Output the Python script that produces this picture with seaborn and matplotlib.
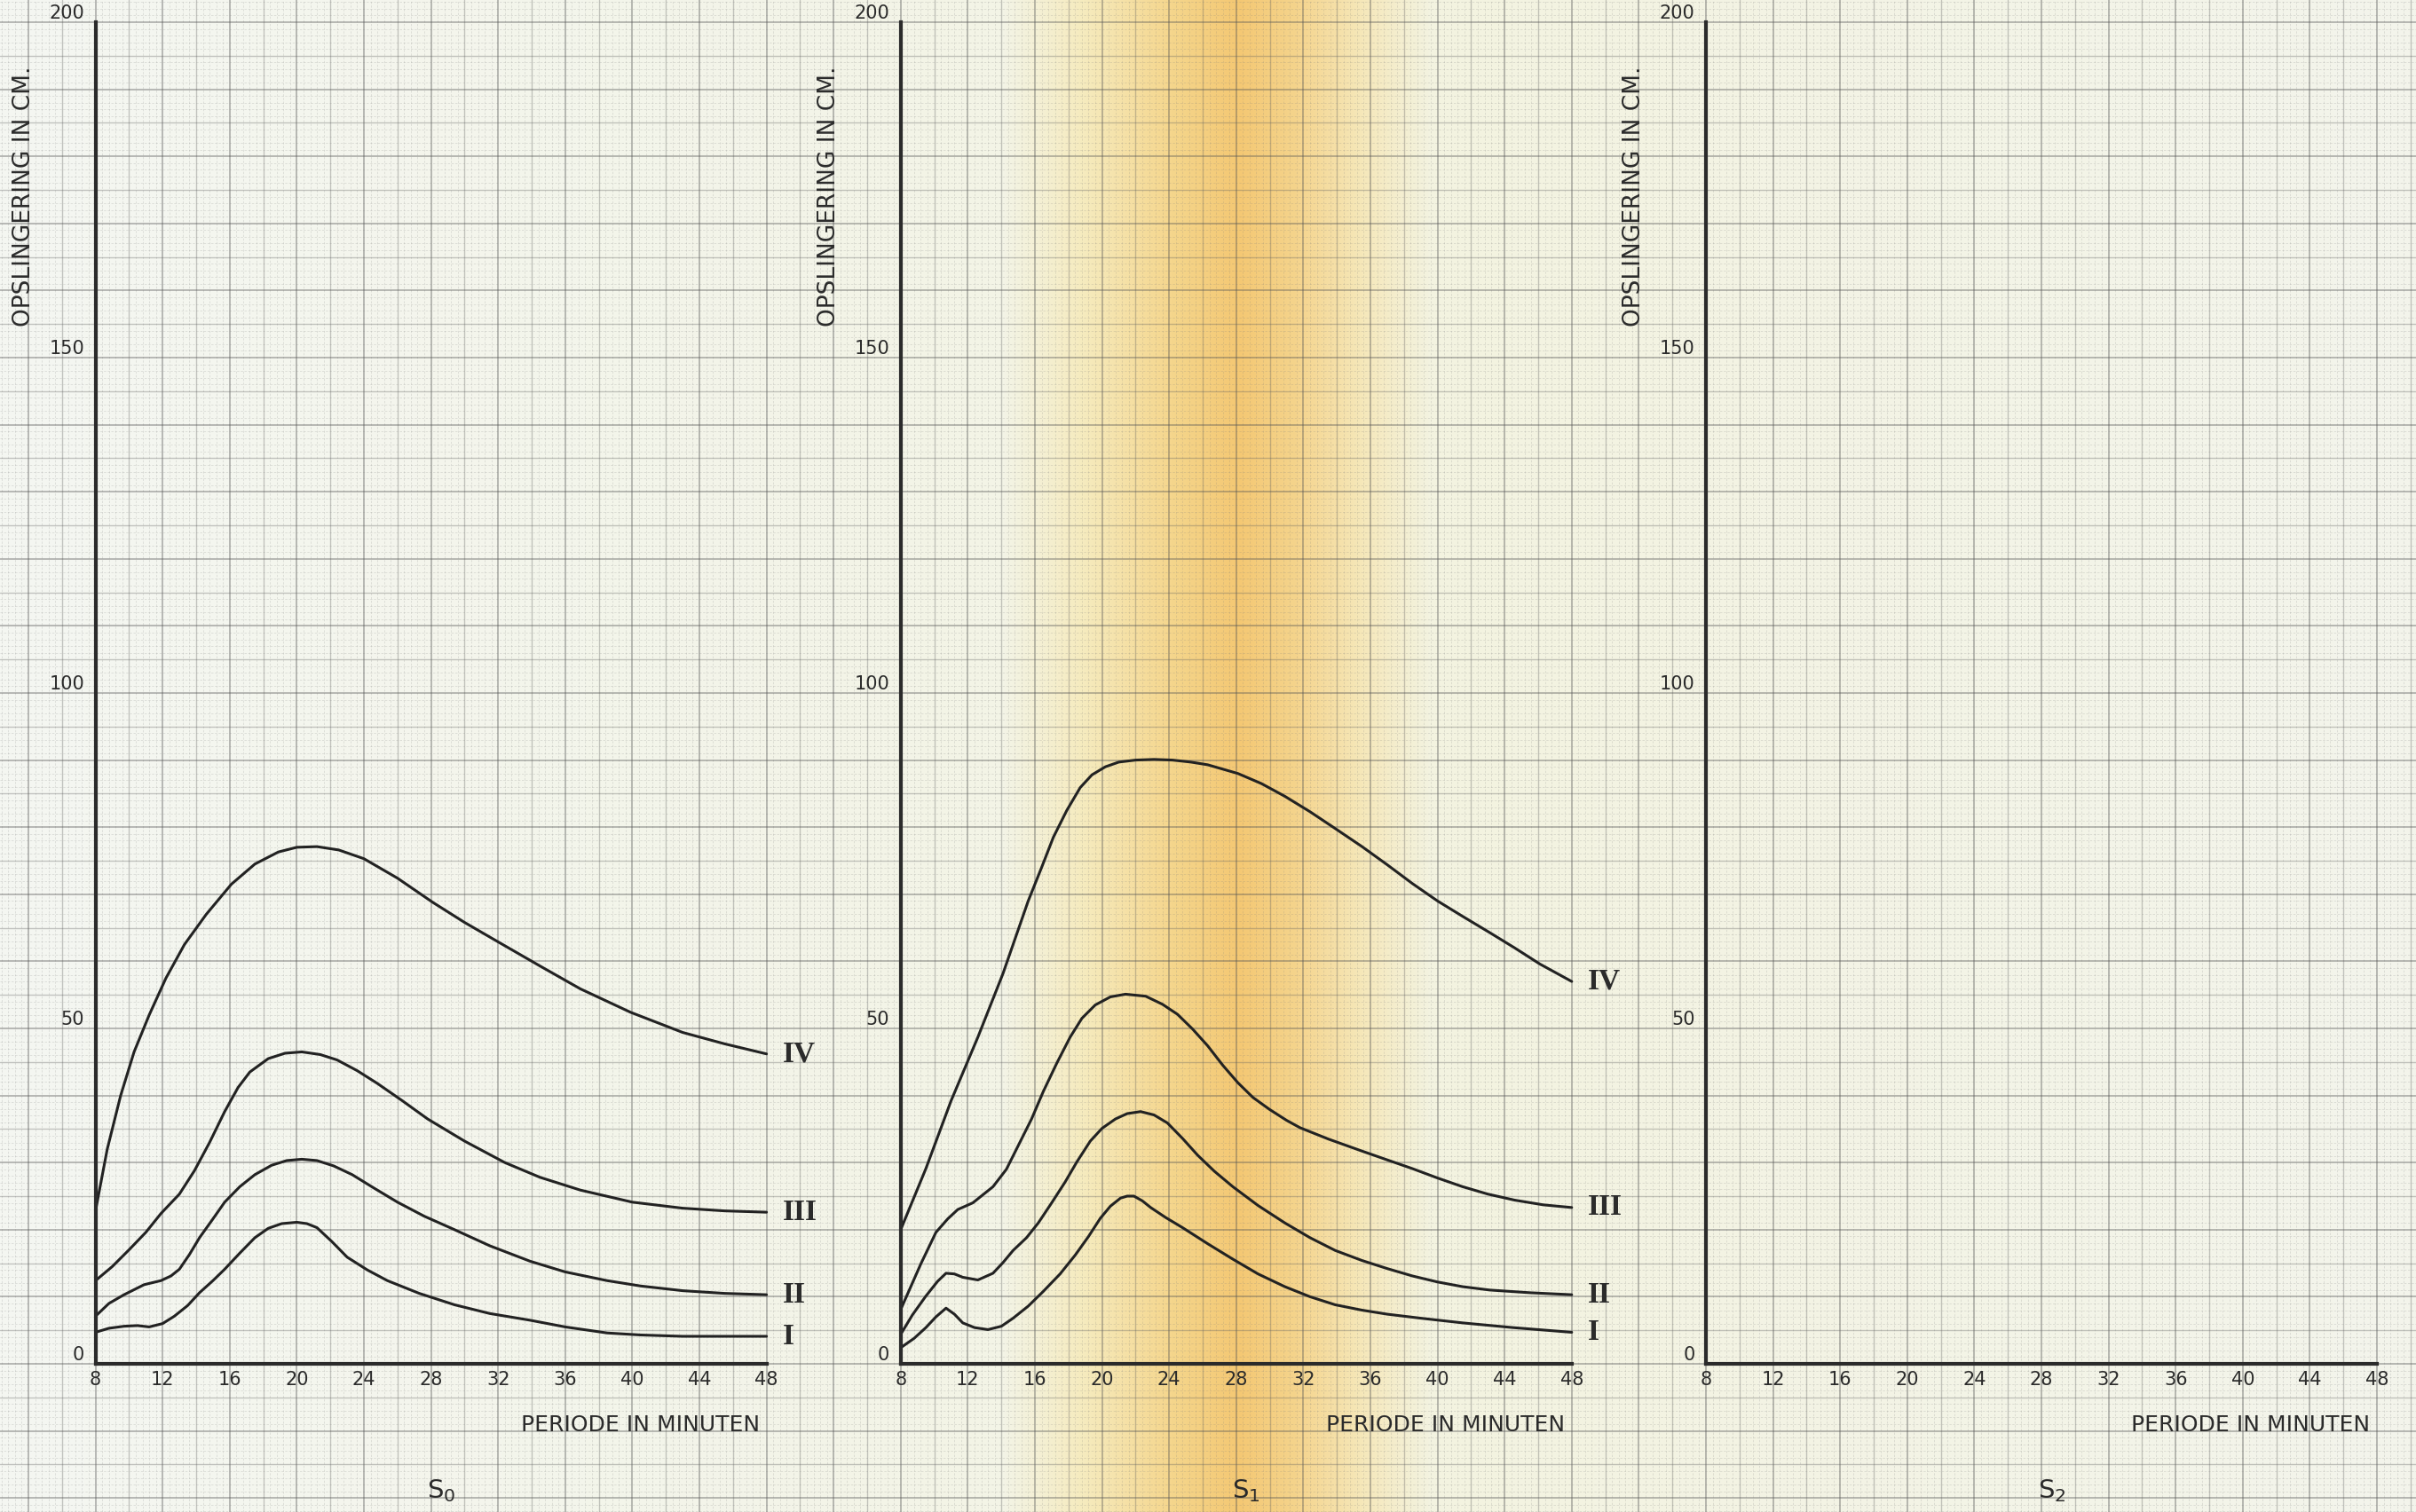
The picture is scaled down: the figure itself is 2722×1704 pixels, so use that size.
import numpy as np
import pandas as pd
import matplotlib.pyplot as plt
import seaborn as sns

# --- data: S0 panel ---
x_s0_I = [8, 8.8, 9.7, 10.5, 11.2, 12, 12.7, 13.5, 14.2, 15, 15.7, 16.6, 17.5, 18.3, 19.1, 20.0, 20.6, 21.2,
          22.1, 23.0, 24.2, 25.4, 27.3, 29.4, 31.5, 33.9, 36, 38.5, 40.5, 43.0, 48]
y_s0_I = [4.7, 5.3, 5.6, 5.7, 5.5, 6.0, 7.1, 8.7, 10.6, 12.4, 14.1, 16.5, 18.8, 20.2, 20.9, 21.1, 20.9, 20.3,
          18.2, 15.9, 14.0, 12.4, 10.5, 8.8, 7.5, 6.5, 5.5, 4.6, 4.3, 4.1, 4.1]
x_s0_II = [8, 8.8, 9.7, 10.9, 11.9, 12.5, 13.0, 13.6, 14.2, 15.0, 15.7, 16.6, 17.5, 18.5, 19.4, 20.3, 21.2,
           22.2, 23.3, 24.6, 26.0, 27.6, 29.4, 31.5, 33.9, 36, 38.5, 40.5, 43.0, 45.5, 48]
y_s0_II = [7.1, 9.0, 10.3, 11.8, 12.4, 13.1, 14.1, 16.3, 18.8, 21.6, 24.1, 26.4, 28.2, 29.6, 30.3, 30.5, 30.3,
           29.5, 28.2, 26.2, 24.1, 22.0, 20.0, 17.6, 15.3, 13.7, 12.4, 11.6, 10.9, 10.5, 10.3]
x_s0_III = [8, 9, 10, 11, 11.9, 13, 13.9, 14.8, 15.7, 16.5, 17.2, 18.3, 19.3, 20.3, 21.4, 22.4, 23.6, 24.8,
            26.3, 27.8, 30, 32.4, 34.5, 36.9, 40.0, 43.0, 45.5, 48]
y_s0_III = [12.4, 14.5, 17.0, 19.6, 22.4, 25.3, 28.8, 33.0, 37.6, 41.2, 43.5, 45.5, 46.3, 46.5, 46.1, 45.3,
            43.7, 41.8, 39.2, 36.5, 33.2, 30.0, 27.8, 25.9, 24.1, 23.2, 22.8, 22.6]
x_s0_IV = [8, 8.7, 9.5, 10.3, 11.2, 12.2, 13.3, 14.6, 16.1, 17.5, 18.9, 20.0, 21.2, 22.5, 24.0, 26.0, 28.1,
           30, 32.0, 34.5, 36.9, 39.9, 43.0, 45.5, 48]
y_s0_IV = [22.8, 32.0, 40.0, 46.5, 52.0, 57.5, 62.5, 67.0, 71.5, 74.5, 76.3, 77.0, 77.1, 76.6, 75.3, 72.4,
           68.8, 65.8, 62.9, 59.3, 55.9, 52.4, 49.4, 47.7, 46.2]

# --- S1 panel ---
x_s1_I = [8, 8.8, 9.5, 10.1, 10.7, 11.2, 11.7, 12.4, 13.2, 14, 14.7, 15.6, 16.5, 17.5, 18.4, 19.2, 19.9, 20.5,
          21.1, 21.5, 21.9, 22.4, 22.9, 23.8, 24.8, 26.3, 27.8, 29.3, 30.9, 32.4, 33.9, 35.5, 37, 39, 41.5,
          44.5, 48]
y_s1_I = [2.4, 3.8, 5.4, 7.0, 8.3, 7.4, 6.1, 5.4, 5.1, 5.6, 6.8, 8.6, 10.8, 13.4, 16.2, 19.0, 21.7, 23.5,
          24.7, 25.0, 25.0, 24.3, 23.3, 21.8, 20.3, 17.9, 15.6, 13.4, 11.5, 10.0, 8.8, 8.0, 7.4, 6.8, 6.1,
          5.4, 4.7]
x_s1_II = [8, 8.7, 9.5, 10.2, 10.7, 11.2, 11.7, 12.6, 13.5, 14.1, 14.7, 15.5, 16.2, 17, 17.8, 18.5, 19.3, 20,
           20.8, 21.5, 22.3, 23.1, 23.9, 24.8, 25.7, 26.7, 27.8, 29.3, 30.9, 32.4, 33.9, 35.5, 37, 38.5, 40,
           41.5, 43.1, 45.5, 48]
y_s1_II = [4.4, 7.3, 10.1, 12.3, 13.5, 13.4, 12.9, 12.5, 13.5, 15.1, 16.9, 18.8, 21.0, 24.0, 27.1, 30.1,
           33.2, 35.1, 36.5, 37.3, 37.6, 37.1, 35.9, 33.6, 31.1, 28.7, 26.4, 23.6, 21.0, 18.8, 16.9, 15.4,
           14.2, 13.1, 12.2, 11.5, 11.0, 10.6, 10.3]
x_s1_III = [8, 8.6, 9.2, 10.1, 10.8, 11.4, 12.3, 13.5, 14.3, 15, 15.8, 16.5, 17.3, 18.1, 18.8, 19.6, 20.5,
            21.4, 22.6, 23.6, 24.5, 25.4, 26.3, 27.2, 28.1, 29, 30, 31, 31.8, 33.5, 35.4, 37, 38.5, 40, 41.5,
            43, 44.6, 46.3, 48]
y_s1_III = [8.1, 11.5, 14.9, 19.6, 21.6, 23.0, 24.0, 26.4, 29.0, 32.5, 36.5, 40.6, 44.8, 48.7, 51.5, 53.5,
            54.7, 55.1, 54.8, 53.6, 52.1, 49.9, 47.4, 44.5, 41.9, 39.7, 37.9, 36.3, 35.2, 33.5, 31.8, 30.4,
            29.1, 27.7, 26.4, 25.3, 24.4, 23.7, 23.3]
x_s1_IV = [8, 9.5, 11, 12.6, 14.1, 15.6, 16.4, 17.1, 17.9, 18.7, 19.4, 20.2, 21, 22, 23.1, 24.2, 25.3, 26.3,
           28.1, 29.5, 30.9, 32.4, 33.9, 35.5, 37, 38.5, 40, 41.5, 43.1, 44.6, 46.1, 48]
y_s1_IV = [20.0, 29.1, 39.2, 48.7, 58.2, 69.0, 74.0, 78.5, 82.5, 85.9, 87.8, 89.0, 89.7, 90.0, 90.1, 90.0,
           89.7, 89.3, 88.0, 86.5, 84.6, 82.3, 79.8, 77.1, 74.4, 71.6, 69.0, 66.7, 64.3, 62.0, 59.6, 57.0]

curve_names = ['I', 'II', 'III', 'IV']
panel_names = ['S$_\\mathregular{0}$', 'S$_\\mathregular{1}$', 'S$_\\mathregular{2}$']
x_ticks = [8, 12, 16, 20, 24, 28, 32, 36, 40, 44, 48]
y_ticks = [0, 50, 100, 150, 200]
y_label = 'OPSLINGERING IN CM.'
x_label = 'PERIODE IN MINUTEN'

panels = [
    {'I': (x_s0_I, y_s0_I), 'II': (x_s0_II, y_s0_II), 'III': (x_s0_III, y_s0_III), 'IV': (x_s0_IV, y_s0_IV)},
    {'I': (x_s1_I, y_s1_I), 'II': (x_s1_II, y_s1_II), 'III': (x_s1_III, y_s1_III), 'IV': (x_s1_IV, y_s1_IV)},
    {},
]

sns.set_theme(style="white")
plt.rcParams['font.family'] = ['DejaVu Sans']
ink = '#2b2b2b'

W, H = 2722, 1704
fig = plt.figure(figsize=(W / 100, H / 100), dpi=100)

# --- graph paper background (scan tint + mm grid) ---
bg = fig.add_axes([0, 0, 1, 1], zorder=-5)
bg.set_xlim(0, W)
bg.set_ylim(H, 0)
bg.axis('off')
px = np.arange(W)
stops = [0, 1130, 1220, 1320, 1395, 1460, 1535, 1610, W]
cols = np.array([(245, 247, 242), (243, 244, 230), (246, 235, 190), (245, 214, 140),
                 (244, 200, 115), (245, 212, 140), (246, 232, 186), (243, 243, 224),
                 (244, 245, 236)]) / 255
grad = np.stack([np.interp(px, stops, cols[:, c]) for c in range(3)], axis=-1)[None, :, :]
bg.imshow(grad, extent=[0, W, H, 0], aspect='auto')

pitch = 75.6
x0, y0 = 107.6, 1537.0
fine = pitch / 10
xs = x0 + fine * np.arange(-int(x0 / fine) - 1, int((W - x0) / fine) + 2)
ys = y0 - fine * np.arange(-int((H - y0) / fine) - 1, int(y0 / fine) + 2)


def grid_line(draw, pos, k):
    if k % 10 == 0:
        draw(pos, color='#555555', lw=1.3, alpha=0.42)
    elif k % 5 == 0:
        draw(pos, color='#606060', lw=1.0, alpha=0.34)
    else:
        draw(pos, color='#7a7a7a', lw=0.6, alpha=0.22, ls=(0, (3, 2)))


for xv in xs:
    grid_line(bg.axvline, xv, int(round((xv - x0) / fine)))
for yv in ys:
    grid_line(bg.axhline, yv, int(round((y0 - yv) / fine)))

# --- the three panels ---
for p, curves in enumerate(panels):
    left = x0 + p * 12 * pitch
    ax = fig.add_axes([left / W, (H - y0) / H, 756 / W, 1512 / H])
    ax.set_facecolor('none')

    if curves:
        df = pd.concat([pd.DataFrame({'x': xv, 'y': yv, 'curve': name})
                        for name, (xv, yv) in curves.items()], ignore_index=True)
        sns.lineplot(data=df, x='x', y='y', hue='curve', palette={n: '#222222' for n in curve_names},
                     linewidth=2.2, legend=False, ax=ax, clip_on=False)
        for name, (xv, yv) in curves.items():
            ax.annotate(name, xy=(xv[-1], yv[-1]), xytext=(13, 0), textcoords='offset points',
                        ha='left', va='center', fontsize=24, fontweight='bold', color=ink,
                        family='Liberation Serif')

    ax.set_xlim(8, 48)
    ax.set_ylim(0, 200)
    for side in ['top', 'right']:
        ax.spines[side].set_visible(False)
    for side in ['left', 'bottom']:
        ax.spines[side].set_linewidth(3.0)
        ax.spines[side].set_color(ink)
    ax.set_xticks(x_ticks)
    ax.set_yticks(y_ticks)
    ax.tick_params(axis='x', length=0, pad=6, labelsize=15, labelcolor=ink)
    ax.tick_params(axis='y', direction='out', length=9, width=1.8, color=ink, pad=0,
                   labelsize=15, labelcolor=ink)
    for lab in ax.get_yticklabels():
        lab.set_va('bottom')
    ax.set_xlabel('')
    ax.set_ylabel('')

    ax.text(-81 / 756, 174, y_label, transform=ax.get_yaxis_transform(), rotation=90,
            ha='center', va='center', fontsize=19, color=ink)
    ax.text(47.6, -9.1, x_label, ha='right', va='center', fontsize=18, color=ink, clip_on=False)
    ax.text(28.6, -18.9, panel_names[p], ha='center', va='center', fontsize=21, color=ink, clip_on=False)

fig.savefig('out.png', dpi=100)
